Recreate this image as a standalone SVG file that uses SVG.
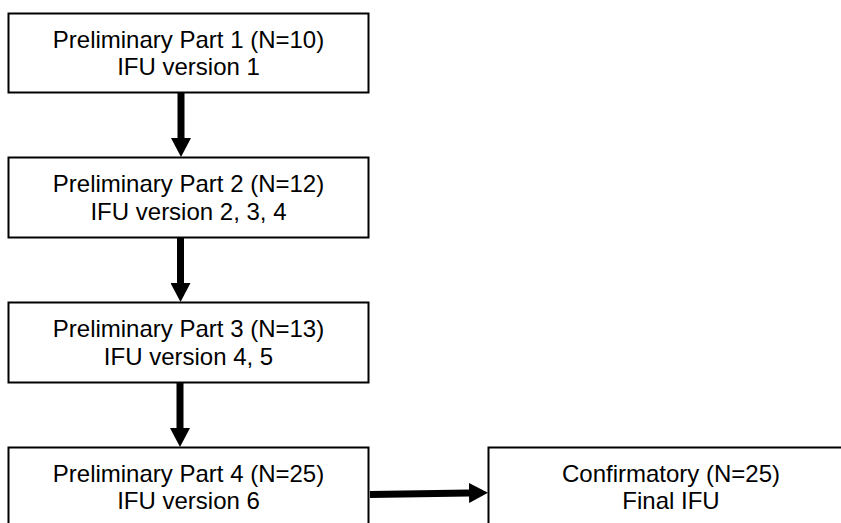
<svg xmlns="http://www.w3.org/2000/svg" width="841" height="523" viewBox="0 0 841 523">
<style>
.box{fill:#ffffff;stroke:#000000;stroke-width:2}
.t{font-family:"Liberation Sans",Arial,sans-serif;font-size:24px;fill:#000000;text-anchor:middle}
.conn{stroke:#000000;stroke-width:7;fill:none}
</style>
<defs>
<marker id="ah" markerUnits="userSpaceOnUse" markerWidth="19" markerHeight="20" viewBox="0 0 19 20" refX="0" refY="10" orient="auto">
<path d="M0,0 L19,10 L0,20 z" fill="#000000"/>
</marker>
</defs>
<rect width="841" height="523" fill="#ffffff"/>
<g id="connectors">
<line class="conn" x1="181" y1="93" x2="181" y2="138" marker-end="url(#ah)"/>
<line class="conn" x1="180.5" y1="238" x2="180.5" y2="283" marker-end="url(#ah)"/>
<line class="conn" x1="180" y1="383" x2="180" y2="428" marker-end="url(#ah)"/>
<line class="conn" x1="370" y1="494.5" x2="469" y2="493" marker-end="url(#ah)"/>
</g>
<g id="node1">
<rect class="box" x="8.5" y="13.5" width="360" height="79"/>
<text class="t" x="188.5" y="47.5">Preliminary Part 1 (N=10)</text>
<text class="t" x="188.5" y="75">IFU version 1</text>
</g>
<g id="node2">
<rect class="box" x="8.5" y="157.5" width="360" height="80"/>
<text class="t" x="188.5" y="192">Preliminary Part 2 (N=12)</text>
<text class="t" x="188.5" y="219.5">IFU version 2, 3, 4</text>
</g>
<g id="node3">
<rect class="box" x="8.5" y="302.5" width="360" height="80"/>
<text class="t" x="188.5" y="337">Preliminary Part 3 (N=13)</text>
<text class="t" x="188.5" y="364.5">IFU version 4, 5</text>
</g>
<g id="node4">
<rect class="box" x="8.5" y="447.5" width="360" height="100"/>
<text class="t" x="188.5" y="481.7">Preliminary Part 4 (N=25)</text>
<text class="t" x="188.5" y="509.3">IFU version 6</text>
</g>
<g id="node5">
<rect class="box" x="488.5" y="447.5" width="366" height="100"/>
<text class="t" x="671" y="481.7">Confirmatory (N=25)</text>
<text class="t" x="671" y="509.3">Final IFU</text>
</g>
</svg>
